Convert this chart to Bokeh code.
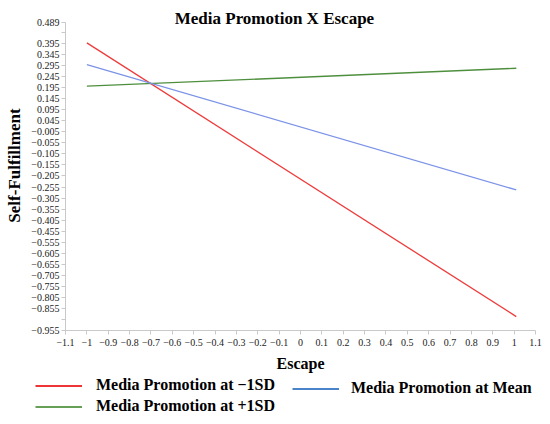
from bokeh.plotting import figure
from bokeh.layouts import column
from bokeh.models import (Range1d, FixedTicker, Legend, LegendItem, Label)
from bokeh.embed import file_html
from bokeh.resources import INLINE

# ---- data ----
escape = [-1.0, 1.01]
sf_minus_1sd = [0.398, -0.842]
sf_mean = [0.300, -0.268]
sf_plus_1sd = [0.202, 0.283]

series_names = ["Media Promotion at \u22121SD", "Media Promotion at +1SD", "Media Promotion at Mean"]
series_colors = ["#ee3b3b", "#4e8f3e", "#7b93e6"]
legend_colors = ["#ee3434", "#66a056", "#4a83c9"]

x_ticks = [-1.1, -1.0, -0.9, -0.8, -0.7, -0.6, -0.5, -0.4, -0.3, -0.2, -0.1, 0.0,
           0.1, 0.2, 0.3, 0.4, 0.5, 0.6, 0.7, 0.8, 0.9, 1.0, 1.1]
x_tick_labels = ["\u22121.1", "\u22121", "\u22120.9", "\u22120.8", "\u22120.7", "\u22120.6",
                 "\u22120.5", "\u22120.4", "\u22120.3", "\u22120.2", "\u22120.1", "0",
                 "0.1", "0.2", "0.3", "0.4", "0.5", "0.6", "0.7", "0.8", "0.9", "1", "1.1"]

y_ticks = [0.489, 0.445, 0.395, 0.345, 0.295, 0.245, 0.195, 0.145, 0.095, 0.045, -0.005,
           -0.055, -0.105, -0.155, -0.205, -0.255, -0.305, -0.355, -0.405, -0.455, -0.505,
           -0.555, -0.605, -0.655, -0.705, -0.755, -0.805, -0.855, -0.905]
y_tick_labels = ["0.489", "", "0.395", "0.345", "0.295", "0.245", "0.195", "0.145", "0.095",
                 "0.045", "\u22120.005", "\u22120.055", "\u22120.105", "\u22120.155", "\u22120.205",
                 "\u22120.255", "\u22120.305", "\u22120.355", "\u22120.405", "\u22120.455",
                 "\u22120.555", "\u22120.605", "\u22120.655", "\u22120.705", "\u22120.755",
                 "\u22120.805", "\u22120.855", "", "\u22120.955"]

SERIF = "Liberation Serif"

p = figure(frame_width=470, frame_height=330,
           x_range=Range1d(-1.1, 1.1), y_range=Range1d(-0.905, 0.590),
           output_backend="svg", toolbar_location=None,
           min_border_left=65, min_border_right=7, min_border_top=0, min_border_bottom=44)
p.outline_line_color = None
p.grid.visible = False
p.background_fill_color = "white"

r_minus = p.line(escape, sf_minus_1sd, line_color=series_colors[0], line_width=1.3)
r_plus = p.line(escape, sf_plus_1sd, line_color=series_colors[1], line_width=1.4)
r_mean = p.line(escape, sf_mean, line_color=series_colors[2], line_width=1.3)

for ax in (p.xaxis[0], p.yaxis[0]):
    ax.axis_line_color = "#c9c9c9"
    ax.major_tick_line_color = "#c9c9c9"
    ax.major_tick_out = 4
    ax.major_tick_in = 0
    ax.minor_tick_line_color = None
    ax.major_label_text_font = SERIF
    ax.major_label_text_font_size = "10px"
    ax.major_label_text_color = "#222222"
    ax.axis_label_text_font = SERIF
    ax.axis_label_text_font_style = "bold"
    ax.axis_label_text_color = "black"

p.xaxis.ticker = FixedTicker(ticks=x_ticks)
p.xaxis.major_label_overrides = dict(zip(x_ticks, x_tick_labels))
p.xaxis.major_label_standoff = 4
p.xaxis.axis_label = "Escape"
p.xaxis.axis_label_text_font_size = "16px"
p.xaxis.axis_label_standoff = 6

p.yaxis.ticker = FixedTicker(ticks=y_ticks)
p.yaxis.major_label_overrides = dict(zip(y_ticks, y_tick_labels))
p.yaxis.major_label_standoff = 2
p.yaxis.bounds = (-0.905, 0.489)
p.yaxis.axis_label = "Self-Fulfillment"
p.yaxis.axis_label_text_font_size = "17px"
p.yaxis.axis_label_standoff = 4

title = Label(x=-0.122, y=0.5085, text="Media Promotion X Escape", text_align="center",
              text_baseline="middle", text_font=SERIF, text_font_style="bold",
              text_font_size="17px", text_color="black")
p.add_layout(title)

# ---- legend strip below the chart (legend carriers sit outside its view) ----
p2 = figure(frame_width=542, frame_height=46, x_range=Range1d(10, 11), y_range=Range1d(10, 11),
            x_axis_type=None, y_axis_type=None, output_backend="svg", toolbar_location=None,
            min_border_left=0, min_border_right=0, min_border_top=0, min_border_bottom=0)
p2.outline_line_color = None
p2.grid.visible = False
lg_minus = p2.line(escape, sf_minus_1sd, line_color=legend_colors[0], line_width=2)
lg_plus = p2.line(escape, sf_plus_1sd, line_color=legend_colors[1], line_width=2)
lg_mean = p2.line(escape, sf_mean, line_color=legend_colors[2], line_width=2)

legend_style = dict(label_text_font=SERIF, label_text_font_style="bold",
                    label_text_font_size="16px", label_text_color="black",
                    glyph_width=47, glyph_height=17, label_height=17,
                    spacing=3, padding=2, margin=0, border_line_color=None,
                    background_fill_alpha=0)

legend_a = Legend(items=[LegendItem(label=series_names[0], renderers=[lg_minus]),
                         LegendItem(label=series_names[1], renderers=[lg_plus])],
                  orientation="vertical", location=(35, 5), label_standoff=14, **legend_style)
legend_b = Legend(items=[LegendItem(label=series_names[2], renderers=[lg_mean])],
                  orientation="vertical", location=(292, 23), label_standoff=12, **legend_style)
p2.add_layout(legend_a)
p2.add_layout(legend_b)

layout = column(p, p2, spacing=0)
open("out.html", "w").write(file_html(layout, INLINE))
